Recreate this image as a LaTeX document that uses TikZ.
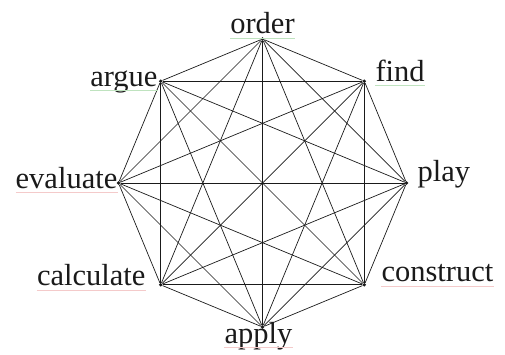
\documentclass[tikz,border=0pt]{standalone}
\usepackage{fontspec}
\setmainfont{Liberation Serif}
\usepackage{tikz}
\usetikzlibrary{positioning}
\definecolor{ink}{HTML}{1A1A1A}
\definecolor{spellok}{HTML}{BFE3BF}
\definecolor{spellbad}{HTML}{F4CACA}
\tikzset{
  vtx/.style={circle, fill=ink, inner sep=0pt, minimum size=3.6pt},
  link/.style={draw=ink, line width=0.7pt},
  word/.style={font=\fontsize{30.5}{34}\selectfont, inner sep=0pt, text=ink},
  squig/.style={line width=0.8pt}
}

\begin{document}
\begin{tikzpicture}[x=1pt, y=1pt]
  \useasboundingbox (0,0) rectangle (505,354);
  \coordinate (mid) at (262.5,171);
  % octagon corners, clockwise from the top
  \foreach \i/\ang in {1/90,2/45,3/0,4/-45,5/-90,6/-135,7/180,8/135}
    \node[vtx] (v\i) at ([shift={(\ang:144)}]mid) {};
  % every pair joined
  \foreach \i in {1,...,7}{
    \pgfmathtruncatemacro\nxt{\i+1}
    \foreach \j in {\nxt,...,8}
      \draw[link] (v\i) -- (v\j);
  }
  % words at the corners
  \node[word, anchor=base] (w-order) at ([shift={(0,5.5)}]v1.center) {order};
  \node[word, anchor=base west] (w-find) at ([shift={(11,0)}]v2.center) {find};
  \node[word, anchor=base west] (w-play) at ([shift={(11,2)}]v3.center) {play};
  \node[word, anchor=base west] (w-cons) at ([shift={(17,3)}]v4.center) {construct};
  \node[word, anchor=base] (w-apply) at ([shift={(-4,-16)}]v5.center) {apply};
  \node[word, anchor=base east] (w-calc) at ([shift={(-15,-1)}]v6.center) {calculate};
  \node[word, anchor=base east] (w-eval) at ([shift={(-1,-5)}]v7.center) {evaluate};
  \node[word, anchor=base east] (w-argue) at ([shift={(-3,-5)}]v8.center) {argue};
  % faint spell-check marks
  \foreach \w in {w-order,w-find,w-argue}
    \draw[squig, spellok] ([yshift=-4.5pt]\w.base west) -- ([yshift=-4.5pt]\w.base east);
  \foreach \w in {w-cons,w-apply,w-calc,w-eval}
    \draw[squig, spellbad] ([yshift=-4.5pt]\w.base west) -- ([yshift=-4.5pt]\w.base east);
\end{tikzpicture}
\end{document}
